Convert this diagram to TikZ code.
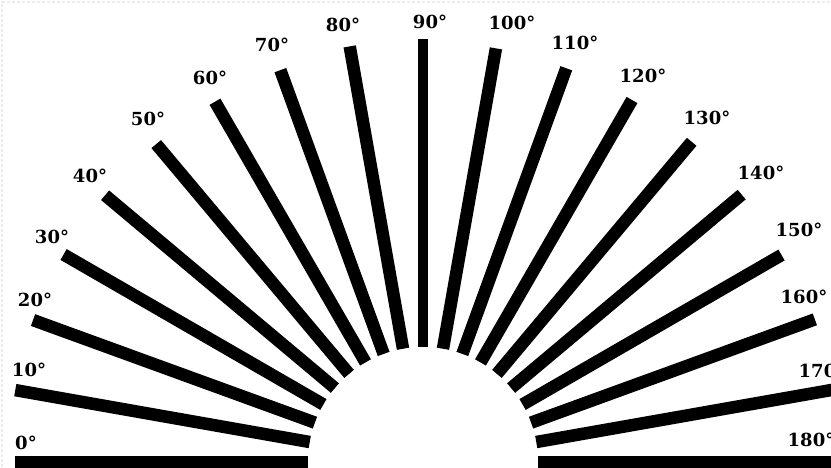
\documentclass[tikz,border=0pt]{standalone}
\usepackage{fontspec}
\setmainfont{DejaVu Serif}
\begin{document}
\begin{tikzpicture}[x=1pt,y=1pt,
  bar/.style={line width=12.5pt,black},
  thinbar/.style={line width=10pt,black},
  lab/.style={inner sep=0pt,font=\fontsize{18}{18}\selectfont\bfseries,anchor=center},
  frame/.style={gray!15,line width=1.2pt,dash pattern=on 3pt off 2pt}]
\useasboundingbox (0,0) rectangle (831,467);
\clip (0,0) rectangle (831,467);
\fill[white] (0,0) rectangle (831,467);
\draw[frame] (2,0) -- (2,465) -- (831,465);
\coordinate (C) at (423,5);
\foreach \a/\r in {0/408,10/414,20/415,30/415,40/415,50/415,60/416,70/417,80/422,
                   100/420,110/419,120/418,130/418,140/416,150/414,160/417,170/420,180/420}
  \draw[bar,shift={(C)}] (180-\a:115) -- (180-\a:\r);
\draw[thinbar,shift={(C)}] (90:115) -- (90:423);
\foreach \a/\x/\y in {0/26/24,10/29/97,20/35/167,30/52/230,40/90/291,50/148/348,
                      60/210/389,70/272/422,80/343/442,90/430/445,100/512/444,
                      110/575/424,120/643/391,130/707/349,140/761/294,150/799/237,
                      160/804/170,170/822/96,180/811/27}
  \node[lab] (l\a) at (\x,\y) {\a°};
\end{tikzpicture}
\end{document}
